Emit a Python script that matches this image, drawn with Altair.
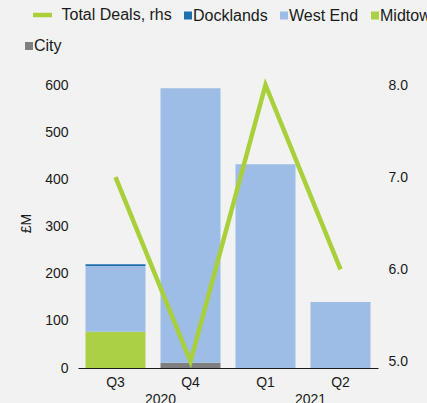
import altair as alt
import pandas as pd

quarters = ["Q3", "Q4", "Q1", "Q2"]
years = ["2020", "2021"]
year_anchor = ["Q4", "Q2"]
city = [0, 11, 0, 0]
midtown = [77, 0, 0, 0]
west_end = [139, 582, 432, 140]
docklands = [4, 0, 0, 0]
total_deals = [7, 5, 8, 6]

series = ["Total Deals, rhs", "Docklands", "West End", "Midtown", "City"]
colors = ["#a9cf3b", "#1f6fae", "#9dbde6", "#abd046", "#7f7f7f"]

rows = []
for i, q in enumerate(quarters):
    for order, (name, vals) in enumerate([("City", city), ("Midtown", midtown),
                                          ("West End", west_end), ("Docklands", docklands)]):
        rows.append({"q": q, "series": name, "value": vals[i], "ord": order})
bars_df = pd.DataFrame(rows)
line_df = pd.DataFrame({"q": quarters, "deals": total_deals, "series": ["Total Deals, rhs"] * 4})
year_df = pd.DataFrame({"q": year_anchor, "year": years})

FONT = "Liberation Sans"
TXT = "#1a1a1a"

xscale = alt.Scale(domain=quarters, paddingInner=0.2, paddingOuter=0.1)
cscale = alt.Scale(domain=series, range=colors)

IS_LINE = "datum.value === 'Total Deals, rhs'"
legend = alt.Legend(
    orient="none", legendX=-53, legendY=-78, columns=4, direction="horizontal",
    title=None, values=series,
    labelFontSize=16, labelFont=FONT, labelColor=TXT,
    labelOffset=alt.ExprRef(f"{IS_LINE} ? 11 : -3"),
    columnPadding=12, rowPadding=14,
    symbolType=alt.ExprRef(f"{IS_LINE} ? 'stroke' : 'square'"),
    symbolSize=alt.ExprRef(f"{IS_LINE} ? 361 : 64"),
    symbolStrokeWidth=alt.ExprRef(f"{IS_LINE} ? 4.5 : 0"),
    symbolOffset=alt.ExprRef(f"{IS_LINE} ? 9.5 : -4"),
    symbolOpacity=1,
)

bars = alt.Chart(bars_df).mark_bar().encode(
    x=alt.X("q:N", scale=xscale, sort=quarters, title=None,
            axis=alt.Axis(labelAngle=0, ticks=False, tickSize=0, labelPadding=7,
                          domainColor="#1a1a1a", labelFontSize=14, labelFont=FONT,
                          labelColor=TXT)),
    y=alt.Y("value:Q", stack="zero", title="£M",
            scale=alt.Scale(domain=[0, 600], nice=False),
            axis=alt.Axis(values=[0, 100, 200, 300, 400, 500, 600], grid=False, domain=False,
                          ticks=False, tickSize=0, labelPadding=10, labelFontSize=14,
                          labelFont=FONT, labelColor=TXT, titleFont=FONT, titleFontSize=14,
                          titleFontWeight="normal", titleColor=TXT, titleAngle=270,
                          titleX=-52, titleY=138, titleAlign="center",
                          titleBaseline="middle")),
    color=alt.Color("series:N", scale=cscale, sort=series, legend=legend),
    order=alt.Order("ord:Q", sort="ascending"),
)

line = alt.Chart(line_df).mark_line(strokeWidth=4.5).encode(
    x=alt.X("q:N", scale=xscale, sort=quarters),
    y=alt.Y("deals:Q", title="No. of Deals",
            scale=alt.Scale(domain=[4.93, 8], nice=False, zero=False),
            axis=alt.Axis(orient="right", values=[5, 6, 7, 8], format=".1f", grid=False,
                          domain=False, ticks=False, tickSize=0, labelPadding=10,
                          labelFontSize=14, labelFont=FONT, labelColor=TXT,
                          titleFont=FONT, titleFontSize=14, titleFontWeight="normal",
                          titleColor=TXT, titleAngle=90, titleX=60, titleY=131,
                          titleAlign="center", titleBaseline="middle")),
    color=alt.Color("series:N", scale=cscale, sort=series, legend=legend),
)

year_text = alt.Chart(year_df).mark_text(
    fontSize=14, font=FONT, color=TXT, baseline="top", align="center"
).encode(
    x=alt.X("q:N", scale=xscale, sort=quarters, bandPosition=0),
    y=alt.value(308),
    text="year:N",
)

chart = alt.layer(bars, line, year_text).resolve_scale(y="independent").properties(
    width=300, height=283,
    background="#f2f2f2",
    autosize=alt.AutoSizeParams(type="none"),
    padding={"left": 78, "top": 85, "right": 49, "bottom": 35},
).configure_view(stroke=None)

chart.save("out.html", embed_options={"renderer": "svg", "actions": False})
